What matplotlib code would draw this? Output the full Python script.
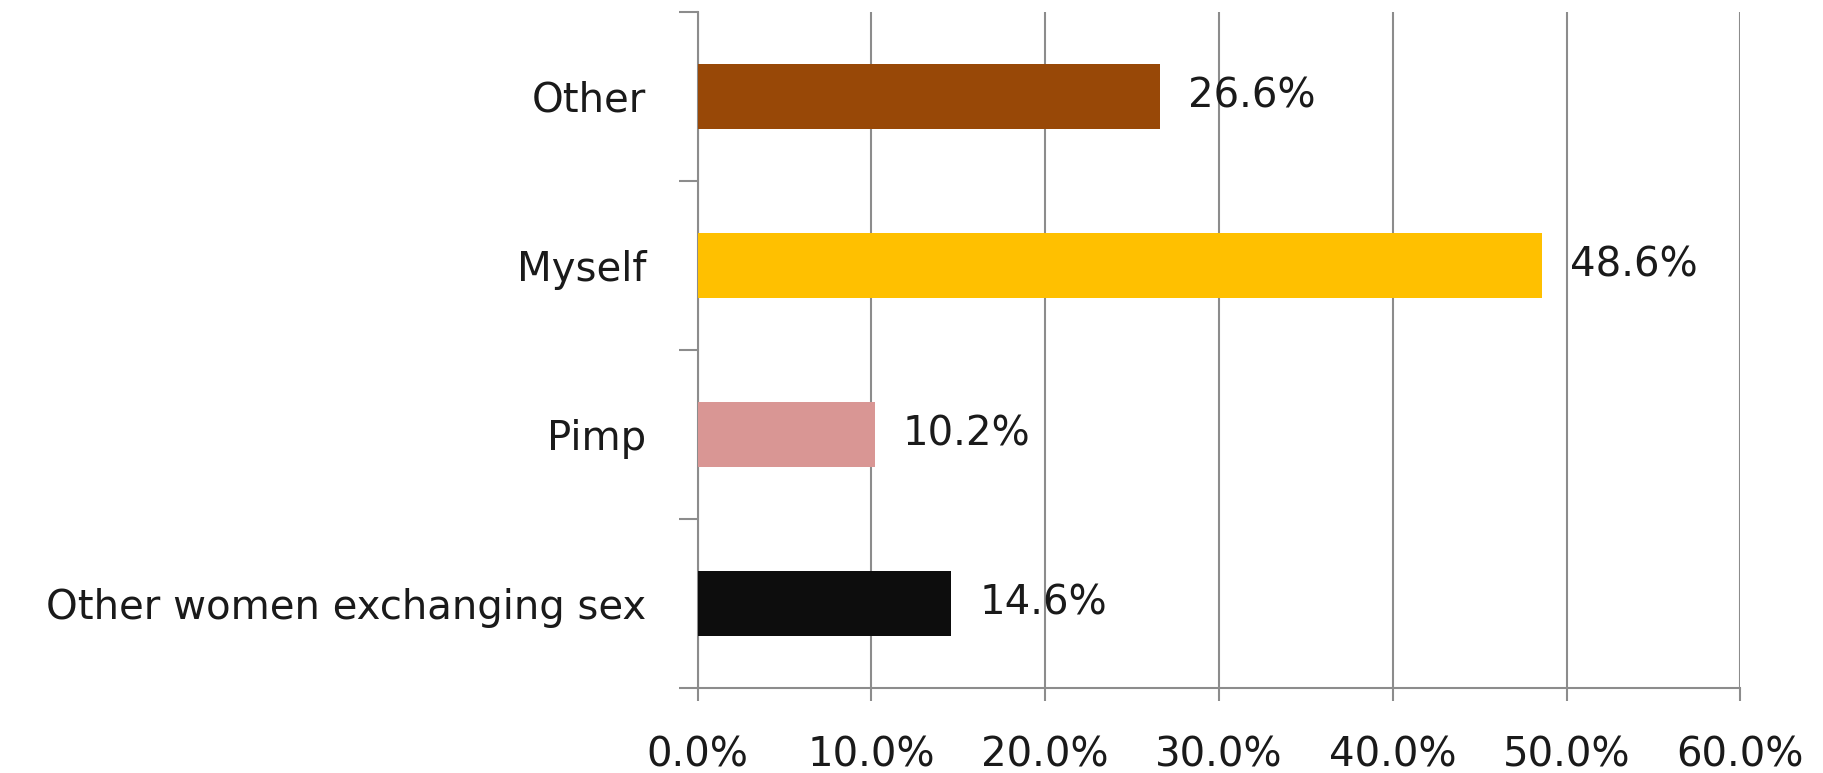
import matplotlib.pyplot as plt
from matplotlib.ticker import FixedLocator, PercentFormatter

# Data (bottom to top)
categories = ['Other women exchanging sex', 'Pimp', 'Myself', 'Other']
values = [14.6, 10.2, 48.6, 26.6]
colors = ['#0D0D0D', '#D99694', '#FFC000', '#984807']

plt.rcParams['font.family'] = ['DejaVu Sans']
grid_col = '#8C8C8C'
txt_col = '#1a1a1a'
fs = 29

fig = plt.figure(figsize=(18.23, 7.73), dpi=100)
ax = fig.add_axes([0.3827, 0.1098, 0.9547 - 0.3827, 0.985 - 0.1098])

y = range(len(categories))
ax.barh(y, values, height=0.385, color=colors, zorder=3)

for yi, v in zip(y, values):
    ax.text(v + 1.6, yi, f'{v:.1f}%', va='center', ha='left', fontsize=fs, color=txt_col)

ax.set_xlim(0, 60)
ax.set_ylim(-0.5, len(categories) - 0.5)
ax.set_xticks(range(0, 61, 10))
ax.xaxis.set_major_formatter(PercentFormatter(decimals=1))
ax.set_yticks(list(y))
ax.set_yticklabels(categories)
ax.yaxis.set_minor_locator(FixedLocator([i - 0.5 for i in range(len(categories) + 1)]))

ax.grid(axis='x', color=grid_col, linewidth=1.5, zorder=0)
ax.tick_params(axis='x', length=9, width=1.5, color=grid_col, pad=25, labelsize=fs, labelcolor=txt_col)
ax.tick_params(axis='y', which='major', length=0, pad=37, labelsize=fs, labelcolor=txt_col)
ax.tick_params(axis='y', which='minor', length=14, width=1.5, color=grid_col)

for s in ['top', 'right']:
    ax.spines[s].set_visible(False)
for s in ['left', 'bottom']:
    ax.spines[s].set_color(grid_col)
    ax.spines[s].set_linewidth(1.5)

fig.savefig('out.png', dpi=100)
